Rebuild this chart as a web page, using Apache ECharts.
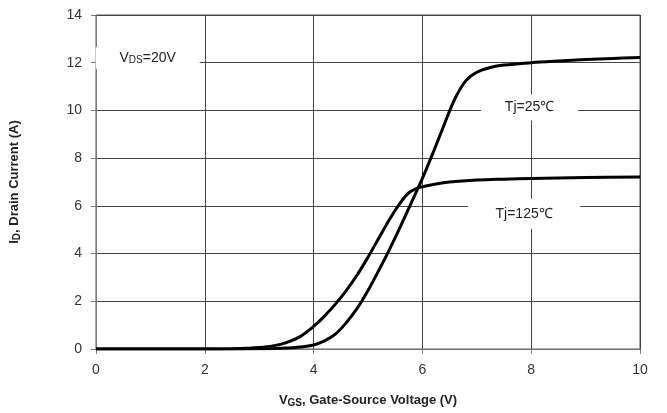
<!DOCTYPE html>
<html>
<head>
<meta charset="utf-8">
<script src="https://cdn.jsdelivr.net/npm/echarts@6/dist/echarts.min.js"></script>
<style>
  html, body { margin: 0; padding: 0; background: #fff; }
  #chart { width: 667px; height: 413px; }
</style>
</head>
<body>
<div id="chart"></div>
<script>
// 传输特性曲线 ID-VGS
let vgs25 = [0, 1, 2, 2.5, 3, 3.25, 3.5, 3.75, 4.0, 4.2, 4.4, 4.6, 4.8, 5.0, 5.2, 5.4, 5.6, 5.8, 6.0, 6.2, 6.4, 6.6, 6.8, 7.0, 7.25, 7.5, 8, 8.5, 9, 9.5, 10];
let id25 = [0, 0, 0, 0, 0.01, 0.02, 0.04, 0.08, 0.17, 0.34, 0.62, 1.1, 1.7, 2.45, 3.3, 4.2, 5.15, 6.15, 7.15, 8.25, 9.4, 10.5, 11.25, 11.6, 11.8, 11.9, 12.0, 12.07, 12.13, 12.18, 12.22];
let vgs125 = [0, 1, 2, 2.5, 2.75, 3, 3.25, 3.5, 3.75, 4.0, 4.2, 4.4, 4.6, 4.8, 5.0, 5.2, 5.4, 5.6, 5.75, 5.9, 6.0, 6.25, 6.5, 7, 7.5, 8, 9, 10];
let id125 = [0, 0, 0, 0.01, 0.03, 0.06, 0.13, 0.27, 0.52, 0.95, 1.38, 1.88, 2.45, 3.1, 3.85, 4.65, 5.45, 6.15, 6.55, 6.73, 6.8, 6.92, 7.0, 7.08, 7.12, 7.15, 7.19, 7.21];
let xTicks = [0, 2, 4, 6, 8, 10];
let yTicks = [0, 2, 4, 6, 8, 10, 12, 14];

// 文字标注（位置用数据坐标）
let notes = [
  { text: '{n|V}{s|DS}{n|=20V}', coord: [0.95, 12.2], size: [104, 22] },
  { text: '{n|Tj=25℃}', coord: [7.97, 10.12], size: [97, 26] },
  { text: '{n|Tj=125℃}', coord: [7.87, 5.67], size: [112, 30] }
];

function pairs(xs, ys) {
  return xs.map(function (x, i) { return [x, ys[i]]; });
}

let myChart = echarts.init(document.getElementById('chart'));
let labelFont = 'Liberation Sans';
let option = {
  animation: false,
  grid: {
    left: 96,
    right: 27,
    top: 15,
    bottom: 61,
    show: true,
    borderColor: '#555',
    borderWidth: 1
  },
  xAxis: {
    type: 'value',
    min: xTicks[0],
    max: xTicks[xTicks.length - 1],
    interval: 2,
    name: '{b|V}{s|GS}{b|, Gate-Source Voltage (V)}',
    nameLocation: 'middle',
    nameGap: 44,
    nameTextStyle: {
      rich: {
        b: { fontFamily: labelFont, fontSize: 13, fontWeight: 'bold', color: '#222' },
        s: { fontFamily: labelFont, fontSize: 10, fontWeight: 'bold', color: '#222', padding: [5, 0, 0, 0] }
      }
    },
    axisLine: { lineStyle: { color: '#777', width: 1 } },
    axisTick: { show: true, length: 5, lineStyle: { color: '#777' } },
    axisLabel: { fontFamily: labelFont, fontSize: 14, color: '#333', margin: 14 },
    splitLine: { lineStyle: { color: '#444', width: 1 } }
  },
  yAxis: {
    type: 'value',
    min: yTicks[0],
    max: yTicks[yTicks.length - 1],
    interval: 2,
    name: '{b|I}{s|D}{b|, Drain Current (A)}',
    nameLocation: 'middle',
    nameGap: 74,
    nameTextStyle: {
      rich: {
        b: { fontFamily: labelFont, fontSize: 13, fontWeight: 'bold', color: '#222' },
        s: { fontFamily: labelFont, fontSize: 10, fontWeight: 'bold', color: '#222', padding: [5, 0, 0, 0] }
      }
    },
    axisLine: { show: true, lineStyle: { color: '#777', width: 1 } },
    axisTick: { show: true, length: 5, lineStyle: { color: '#777' } },
    axisLabel: { fontFamily: labelFont, fontSize: 14, color: '#333', margin: 14 },
    splitLine: { lineStyle: { color: '#444', width: 1 } }
  },
  series: [
    {
      name: 'Tj=25℃',
      type: 'line',
      data: pairs(vgs25, id25),
      smooth: 0.35,
      symbol: 'none',
      lineStyle: { color: '#000', width: 3 },
      z: 3
    },
    {
      name: 'Tj=125℃',
      type: 'line',
      data: pairs(vgs125, id125),
      smooth: 0.35,
      symbol: 'none',
      lineStyle: { color: '#000', width: 3 },
      z: 3,
      markPoint: {
        symbol: 'rect',
        silent: true,
        itemStyle: { color: '#fff' },
        data: notes.map(function (n) {
          return {
            coord: n.coord,
            symbolSize: n.size,
            label: {
              show: true,
              position: 'inside',
              formatter: n.text,
              rich: {
                n: { fontFamily: labelFont, fontSize: 14, color: '#222' },
                s: { fontFamily: labelFont, fontSize: 10, color: '#222', padding: [5, 0, 0, 0] }
              }
            }
          };
        })
      }
    }
  ]
};

myChart.setOption(option);
</script>
</body>
</html>
